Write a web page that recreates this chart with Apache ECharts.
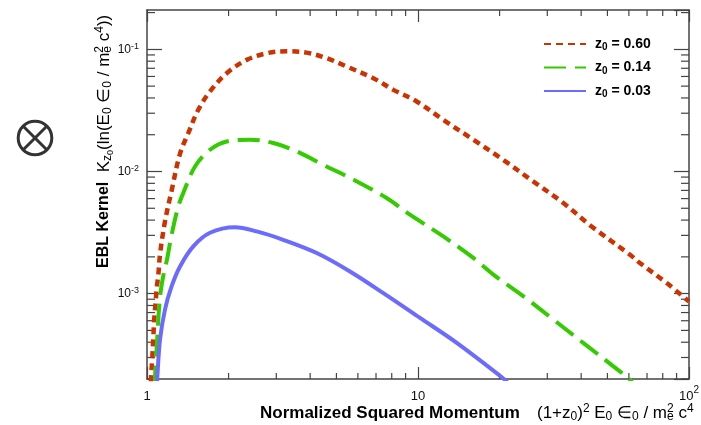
<!DOCTYPE html>
<html><head><meta charset="utf-8">
<script src="https://cdn.jsdelivr.net/npm/echarts@6/dist/echarts.min.js"></script>
<style>html,body{margin:0;padding:0;background:#fff}#c{width:701px;height:425px}</style>
</head><body><div id="c"></div>
<script>
// ---- data ----
const seriesNames = ['z0 = 0.60', 'z0 = 0.14', 'z0 = 0.03'];
const redX = [1.030, 1.035, 1.046, 1.055, 1.064, 1.077, 1.086, 1.101, 1.117, 1.165, 1.233, 1.324, 1.420, 1.546, 1.708, 1.968, 2.333, 2.765, 3.28, 3.88, 4.60, 5.46, 6.84, 8.11, 9.89, 12.4, 16.0, 20.6, 26.6, 34.4, 43.7, 60.6, 65.9, 82.8, 100];
const redY = [1.5e-4, 2.05e-4, 2.98e-4, 4.34e-4, 6.3e-4, 8.65e-4, 1.11e-3, 1.43e-3, 2.1e-3, 3.9e-3, 7.0e-3, 1.4e-2, 2.06e-2, 3.2e-2, 4.52e-2, 6.38e-2, 8.2e-2, 9.3e-2, 9.65e-2, 9.4e-2, 8.47e-2, 7.23e-2, 5.81e-2, 4.66e-2, 3.74e-2, 2.65e-2, 1.82e-2, 1.248e-2, 8.3e-3, 5.52e-3, 3.55e-3, 2.08e-3, 1.78e-3, 1.22e-3, 8.6e-4];
const greenX = [1.066, 1.070, 1.079, 1.093, 1.107, 1.126, 1.155, 1.185, 1.233, 1.305, 1.361, 1.504, 1.708, 1.968, 2.40, 2.925, 3.57, 4.47, 5.77, 7.66, 9.34, 12.4, 16.0, 18.97, 24.5, 31.6, 40.7, 52.6, 59.7, 62.0];
const greenY = [1.7e-4, 2.03e-4, 2.88e-4, 4.62e-4, 7.4e-4, 1.08e-3, 1.49e-3, 1.9e-3, 3.04e-3, 5.18e-3, 6.67e-3, 1.10e-2, 1.506e-2, 1.762e-2, 1.82e-2, 1.71e-2, 1.459e-2, 1.135e-2, 8.6e-3, 6.06e-3, 4.43e-3, 2.94e-3, 1.96e-3, 1.43e-3, 9.5e-4, 6.13e-4, 3.95e-4, 2.54e-4, 2.03e-4, 1.85e-4];
const blueX = [1.085, 1.091, 1.117, 1.165, 1.233, 1.324, 1.482, 1.708, 2.11, 2.54, 3.18, 4.23, 5.61, 7.45, 10.17, 13.9, 20.6, 21.5];
const blueY = [1.6e-4, 2.03e-4, 4.2e-4, 7.4e-4, 1.15e-3, 1.67e-3, 2.44e-3, 3.15e-3, 3.5e-3, 3.23e-3, 2.76e-3, 2.15e-3, 1.52e-3, 1.01e-3, 6.33e-4, 3.95e-4, 2.03e-4, 1.85e-4];
const xTickExp = [0, 1, 2];
const xTickText = ['1', '10', '10{sup|2}'];
const yTickExp = [-3, -2, -1];
const yTickText = ['10{sup|-3}', '10{sup|-2}', '10{sup|-1}'];
const xRange = [1, 100];
const yRange = [2e-4, 0.21];

// ---- layout / style ----
const FONT = '"Liberation Sans", Arial, Helvetica, sans-serif';
const GL = 147, GR = 689, GT = 10, GB = 379;
const AX = '#444';

function pairs(xs, ys) { return xs.map((x, i) => [x, ys[i]]); }
function labelFor(exps, texts) {
  return function (v) {
    const l = Math.log10(v), e = Math.round(l);
    if (Math.abs(l - e) > 1e-6) return '';
    const i = exps.indexOf(e);
    return i < 0 ? '' : texts[i];
  };
}

const chart = echarts.init(document.getElementById('c'), null, {renderer: 'canvas'});

const baseX = {
  type: 'log', logBase: 10, min: xRange[0], max: xRange[1],
  axisLine: {show: true, lineStyle: {color: AX, width: 1.5}},
  axisTick: {show: true, inside: true, length: 12, lineStyle: {color: AX, width: 1.2}},
  splitLine: {show: false}, minorTick: {show: false}
};
const baseY = {
  type: 'log', logBase: 10, min: yRange[0], max: yRange[1],
  axisLine: {show: true, lineStyle: {color: AX, width: 1.5}},
  axisTick: {show: true, inside: true, length: 15, lineStyle: {color: AX, width: 1.2}},
  splitLine: {show: false}, minorTick: {show: false}
};

chart.setOption({
  animation: false,
  backgroundColor: '#fff',
  grid: {left: GL, right: 701 - GR, top: GT, bottom: 425 - GB, containLabel: false, outerBoundsMode: 'none'},
  legend: {
    orient: 'vertical', left: 543, top: 37, padding: 0, itemWidth: 42, itemHeight: 14, itemGap: 8,
    data: seriesNames,
    itemStyle: {opacity: 0},
    formatter: function (n) { return '{b0|z}{s|0}{b| = ' + n.split('= ')[1] + '}'; },
    textStyle: {
      fontFamily: FONT, fontSize: 14, fontWeight: 'bold', color: '#000',
      rich: {
        b0: {fontFamily: FONT, fontSize: 14, fontWeight: 'bold', color: '#000', padding: [0, 0, 0, 4]},
        b: {fontFamily: FONT, fontSize: 14, fontWeight: 'bold', color: '#000'},
        s: {fontFamily: FONT, fontSize: 10, fontWeight: 'bold', color: '#000', padding: [7, 0, 0, 0]}
      }
    }
  },
  xAxis: [
    Object.assign({}, baseX, {
      position: 'bottom',
      axisLabel: {
        show: true, margin: 6.5, fontFamily: FONT, fontSize: 13, color: '#111', lineHeight: 22,
        showMinLabel: true, showMaxLabel: true,
        formatter: labelFor(xTickExp, xTickText),
        rich: {sup: {fontFamily: FONT, fontSize: 10, lineHeight: 10, color: '#111', padding: [0, 0, 12, 0]}}
      }
    }),
    Object.assign({}, baseX, {position: 'top', axisLabel: {show: false}})
  ],
  yAxis: [
    Object.assign({}, baseY, {
      position: 'left',
      axisLabel: {
        show: true, margin: 8, fontFamily: FONT, fontSize: 12, color: '#111', lineHeight: 16,
        showMinLabel: false, showMaxLabel: false,
        formatter: labelFor(yTickExp, yTickText),
        rich: {sup: {fontFamily: FONT, fontSize: 9, lineHeight: 9, color: '#111', padding: [0, 0, 6, 0]}}
      }
    }),
    Object.assign({}, baseY, {position: 'right', axisLabel: {show: false}})
  ],
  series: [
    {
      type: 'line', name: seriesNames[0], data: pairs(redX, redY), xAxisIndex: 0, yAxisIndex: 0,
      symbol: 'none', showSymbol: false, smooth: 0.35, clip: true, z: 3,
      lineStyle: {color: '#cc3300', width: 4.5, type: [7, 5], cap: 'butt'}, itemStyle: {color: '#cc3300'}
    },
    {
      type: 'line', name: seriesNames[1], data: pairs(greenX, greenY), xAxisIndex: 0, yAxisIndex: 0,
      symbol: 'none', showSymbol: false, smooth: 0.35, clip: true, z: 3,
      lineStyle: {color: '#33cc00', width: 4, type: [22, 9], cap: 'butt'}, itemStyle: {color: '#33cc00'}
    },
    {
      type: 'line', name: seriesNames[2], data: pairs(blueX, blueY), xAxisIndex: 0, yAxisIndex: 0,
      symbol: 'none', showSymbol: false, smooth: 0.35, clip: true, z: 3,
      lineStyle: {color: '#6b6bff', width: 4, type: 'solid'}, itemStyle: {color: '#6b6bff'}
    }
  ]
});

// ---- minor ticks (2..9 per decade) via the axes' own scales, titles, symbol ----
const g = [];
const tickStyle = {stroke: AX, lineWidth: 1.2};
for (let n = 0; n < 2; n++) for (let m = 2; m <= 9; m++) {
  const px = chart.convertToPixel({xAxisIndex: 0}, m * Math.pow(10, n));
  g.push({type: 'line', silent: true, shape: {x1: px, y1: GB, x2: px, y2: GB - 6}, style: tickStyle});
  g.push({type: 'line', silent: true, shape: {x1: px, y1: GT, x2: px, y2: GT + 6}, style: tickStyle});
}
for (let n = -4; n <= -1; n++) for (let m = 2; m <= 9; m++) {
  const v = m * Math.pow(10, n);
  if (v < yRange[0] || v > yRange[1]) continue;
  const py = chart.convertToPixel({yAxisIndex: 0}, v);
  g.push({type: 'line', silent: true, shape: {x1: GL, y1: py, x2: GL + 8, y2: py}, style: tickStyle});
  g.push({type: 'line', silent: true, shape: {x1: GR, y1: py, x2: GR - 8, y2: py}, style: tickStyle});
}
const subRich = {
  sub: {fontFamily: FONT, fontSize: 12, color: '#000', padding: [8, 0, 0, 0]},
  ss: {fontFamily: FONT, fontSize: 9, color: '#000', padding: [13, 0, 0, 0]},
  sup: {fontFamily: FONT, fontSize: 12, color: '#000', padding: [0, 0, 8, 0]},
  sz: {fontFamily: FONT, fontSize: 12, color: '#000', padding: [0, 0, 8, 0], width: 0.01},
  b: {fontFamily: FONT, fontSize: 17, fontWeight: 'bold', color: '#000'}
};
g.push({type: 'text', silent: true, x: 260, y: 413, style: {
  text: 'Normalized Squared Momentum', fontFamily: FONT, fontSize: 17, fontWeight: 'bold', fill: '#000',
  align: 'left', verticalAlign: 'middle'}});
g.push({type: 'text', silent: true, x: 537, y: 413, style: {
  text: '(1+z{sub|0}){sup|2} E{sub|0} \u2208{sub|0} / m{sz|2}{sub|e} c{sup|4}',
  fontFamily: FONT, fontSize: 17, fill: '#000', align: 'left', verticalAlign: 'middle', rich: subRich}});
g.push({type: 'text', silent: true, x: 104, y: 268, rotation: Math.PI / 2, style: {
  text: '{b|EBL Kernel}  K{sub|z}{ss|0}(ln(E{sub|0} \u2208{sub|0} / m{sz|2}{sub|e} c{sup|4}))',
  fontFamily: FONT, fontSize: 17, fill: '#000', align: 'left', verticalAlign: 'middle',
  rich: Object.assign({}, subRich, {b: {fontFamily: FONT, fontSize: 16, fontWeight: 'bold', color: '#000'}})}});
// circled-times symbol at the left
g.push({type: 'circle', silent: true, shape: {cx: 35, cy: 138, r: 16.8}, style: {fill: 'none', stroke: '#333', lineWidth: 3}});
g.push({type: 'line', silent: true, shape: {x1: 23, y1: 126, x2: 47, y2: 150}, style: {stroke: '#333', lineWidth: 3}});
g.push({type: 'line', silent: true, shape: {x1: 47, y1: 126, x2: 23, y2: 150}, style: {stroke: '#333', lineWidth: 3}});
chart.setOption({graphic: g});
</script>
</body></html>
